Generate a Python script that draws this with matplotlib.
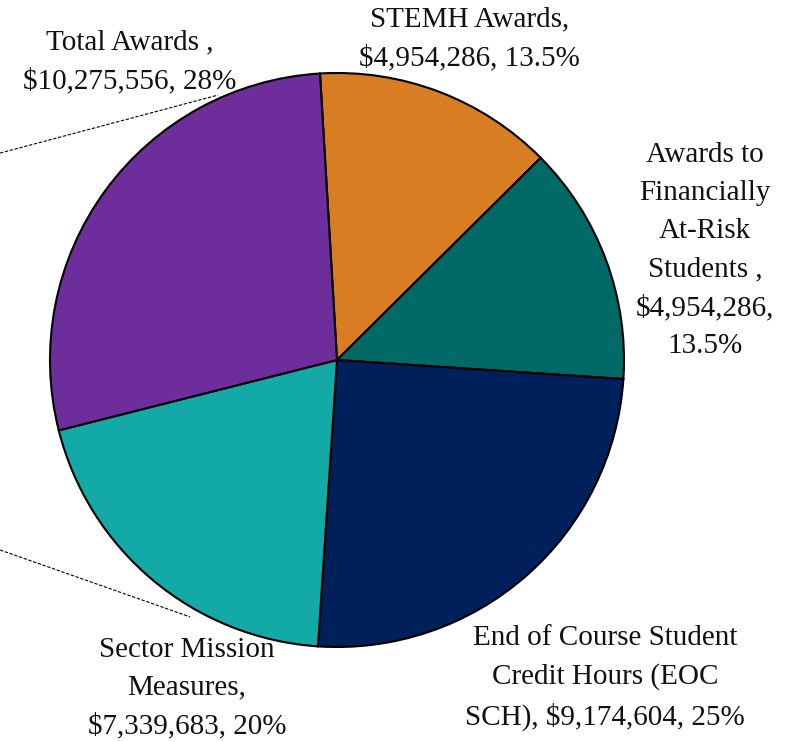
import matplotlib.pyplot as plt

# slice data, clockwise from the top
labels = ["STEMH Awards,\n$4,954,286, 13.5%",
          "Awards to\nFinancially\nAt-Risk\nStudents ,\n$4,954,286,\n13.5%",
          "End of Course Student\nCredit Hours (EOC\nSCH), $9,174,604, 25%",
          "Sector Mission\nMeasures,\n$7,339,683, 20%",
          "Total Awards ,\n$10,275,556, 28%"]
shares = [13.5, 13.5, 25, 20, 28]
colors = ["#D97D22", "#026A66", "#00205B", "#12A9A6", "#6D2E9B"]

# where each label sits (in pie-radius units)
label_pos = [(0.463, 1.118), (1.282, 0.380), (0.934, -1.108),
             (-0.523, -1.143), (-0.721, 1.040)]
# dashed leader lines: (start, end)
leaders = [((-1.174, 0.721), (-0.415, 0.923)),
           ((-1.174, -0.662), (-0.512, -0.895))]

plt.rcParams['font.family'] = ['Liberation Serif', 'DejaVu Serif']

fig = plt.figure(figsize=(8.05, 7.42), dpi=100)
ax = fig.add_axes([50 / 805, 95 / 742, 574 / 805, 574 / 742])

ax.pie(shares, colors=colors, startangle=93.4, counterclock=False,
       wedgeprops=dict(edgecolor="black", linewidth=1.5))

for txt, (x, y) in zip(labels, label_pos):
    ax.text(x, y, txt, ha="center", va="center", fontsize=21,
            linespacing=1.6, color="#111111")

for (x0, y0), (x1, y1) in leaders:
    ax.plot([x0, x1], [y0, y1], ls=(0, (3, 1.5)), color="black",
            lw=0.8, clip_on=False)

ax.set_xlim(-1, 1)
ax.set_ylim(-1, 1)
ax.set_aspect("equal")
ax.axis("off")

fig.savefig("out.png", dpi=100)
